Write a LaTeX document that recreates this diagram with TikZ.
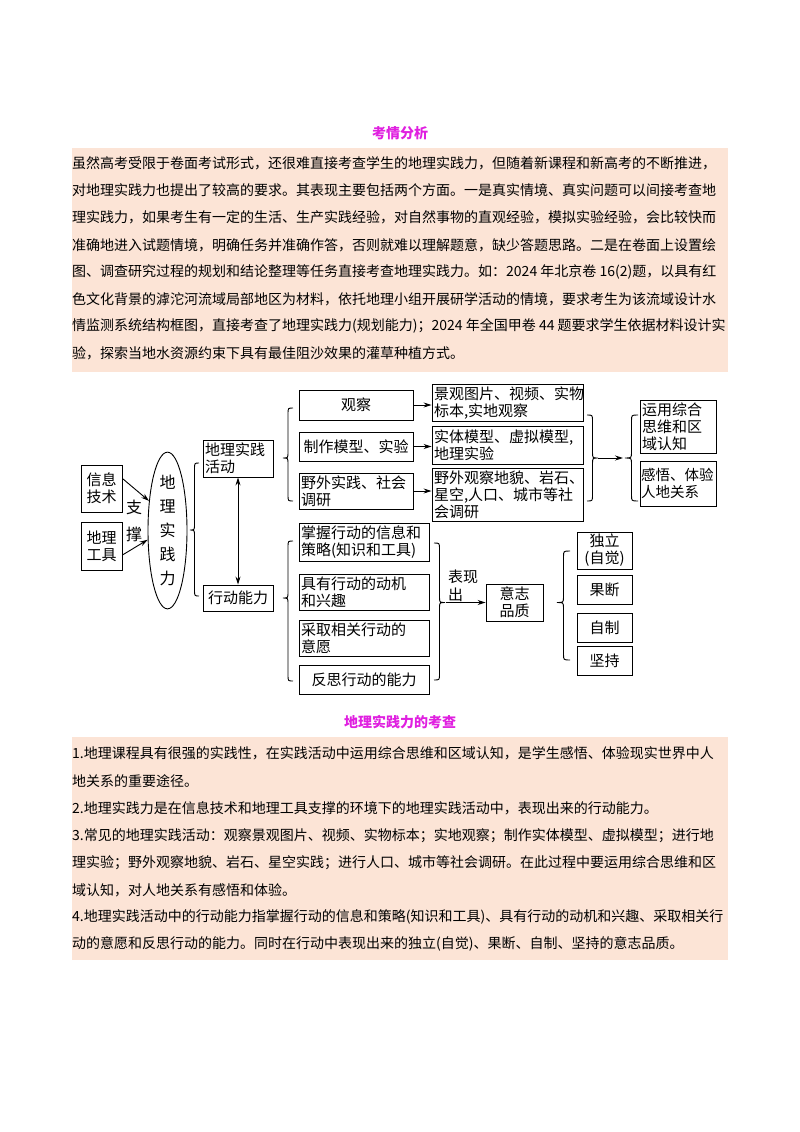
\documentclass[tikz,border=0pt]{standalone}
\usepackage{fontspec}
\setmainfont{Noto Sans CJK SC}
\usetikzlibrary{shapes.geometric,arrows.meta}
\definecolor{pk}{HTML}{FCE4D6}
\definecolor{mg}{HTML}{E020E0}
\newcommand\Brc[5]{\draw[line width=0.9pt] ({#1+#2},#3) .. controls ({#1+#2/2},#3) .. ({#1+#2/2},#3+6) -- ({#1+#2/2},#4-6) .. controls ({#1+#2/2},#4) .. (#1,#4) .. controls ({#1+#2/2},#4) .. ({#1+#2/2},#4+6) -- ({#1+#2/2},#5-6) .. controls ({#1+#2/2},#5) .. ({#1+#2},#5);}
\tikzset{
  bx/.style={draw, line width=0.9pt, inner sep=2pt, font=\fontsize{15}{17}\selectfont, align=left},
  bxc/.style={bx, align=center},
  arr/.style={line width=0.9pt, -{Stealth[length=8pt,width=5pt]}},
  para/.style={anchor=west, inner sep=0pt, font=\fontsize{14}{14}\selectfont},
  ttl/.style={text=mg, font=\fontsize{14}{14}\selectfont\bfseries}
}
\begin{document}
\begin{tikzpicture}[x=1pt,y=-1pt]
\useasboundingbox (0,0) rectangle (800,1132);
\fill[white] (0,0) rectangle (800,1132);
% section 1
\node[ttl] (t1) at (400,133) {考情分析};
\fill[pk] (72,148) rectangle (728,372);
\node[para] (p1) at (72,163) {虽然高考受限于卷面考试形式，还很难直接考查学生的地理实践力，但随着新课程和新高考的不断推进，};
\node[para] (p2) at (72,190) {对地理实践力也提出了较高的要求。其表现主要包括两个方面。一是真实情境、真实问题可以间接考查地};
\node[para] (p3) at (72,217) {理实践力，如果考生有一定的生活、生产实践经验，对自然事物的直观经验，模拟实验经验，会比较快而};
\node[para] (p4) at (72,245) {准确地进入试题情境，明确任务并准确作答，否则就难以理解题意，缺少答题思路。二是在卷面上设置绘};
\node[para] (p5) at (72,272) {图、调查研究过程的规划和结论整理等任务直接考查地理实践力。如：2024 年北京卷 16(2)题，以具有红};
\node[para] (p6) at (72,299) {色文化背景的滹沱河流域局部地区为材料，依托地理小组开展研学活动的情境，要求考生为该流域设计水};
\node[para] (p7) at (72,326) {情监测系统结构框图，直接考查了地理实践力(规划能力)；2024 年全国甲卷 44 题要求学生依据材料设计实};
\node[para] (p8) at (72,353) {验，探索当地水资源约束下具有最佳阻沙效果的灌草种植方式。};
% diagram
\node[bxc, minimum width=41, minimum height=47, text width=37] (xx) at (101.5,488.5) {信息\\技术};
\node[bxc, minimum width=41, minimum height=48, text width=37] (dg) at (101.5,546) {地理\\工具};
\node[draw, line width=0.9pt, ellipse, minimum width=39, minimum height=131, inner sep=0pt, align=center, font=\fontsize{16}{24}\selectfont] (el) at (167.5,530.5) {地\\理\\实\\践\\力};
\node[align=center, font=\fontsize{16}{27}\selectfont, inner sep=0pt] (zc) at (134,521) {支\\撑};
\draw[arr] ([yshift=10pt]xx.east) -- (el.122);
\draw[arr] ([yshift=-9pt]dg.east) -- (el.205);
\Brc{190}{9}{463}{530}{596}
\node[bx, minimum width=70, minimum height=37, text width=66] (hd) at (238,458.5) {地理实践\\活动};
\node[bxc, minimum width=70, minimum height=26, text width=66] (xn) at (238,598) {行动能力};
\draw[line width=0.9pt, {Stealth[length=8pt,width=5pt]}-{Stealth[length=8pt,width=5pt]}] (hd.south) -- (xn.north);
\Brc{283}{10}{408}{458}{501}
\node[bxc, minimum width=114, minimum height=30, text width=110] (gc) at (356,405) {观察};
\node[bxc, minimum width=114, minimum height=29, text width=110] (zz) at (356,446.5) {制作模型、实验};
\node[bx, minimum width=114, minimum height=36, text width=110] (yw) at (356,491) {野外实践、社会\\调研};
\node[bx, minimum width=151, minimum height=36, text width=147] (jg) at (507.5,403) {景观图片、视频、实物\\标本,实地观察};
\node[bx, minimum width=151, minimum height=38, text width=147] (st) at (507.5,445) {实体模型、虚拟模型,\\地理实验};
\node[bx, minimum width=151, minimum height=53, text width=147] (yg) at (507.5,494.5) {野外观察地貌、岩石、\\星空,人口、城市等社\\会调研};
\draw[arr] (gc.east) -- (gc.east -| jg.west);
\draw[arr] (zz.east) -- (zz.east -| st.west);
\draw[arr] (yw.east) -- (yw.east -| yg.west);
\Brc{598}{-11}{415}{458}{501}
\coordinate (r1) at (598,458);
\coordinate (r2) at (623,458);
\draw[arr] (r1) -- (r2);
\Brc{625}{13}{415}{458}{501}
\node[bx, minimum width=76, minimum height=53, text width=72] (yy) at (678,426.5) {运用综合\\思维和区\\域认知};
\node[bx, minimum width=76, minimum height=45, text width=74, inner sep=1pt, font=\fontsize{14.5}{17}\selectfont] (gw) at (678,483.5) {感悟、体验\\人地关系};
\Brc{283}{10}{541}{598}{681}
\node[bx, minimum width=130, minimum height=38, text width=126] (zw) at (364,542) {掌握行动的信息和\\策略(知识和工具)};
\node[bx, minimum width=130, minimum height=36, text width=126] (jy) at (364,592) {具有行动的动机\\和兴趣};
\node[bx, minimum width=130, minimum height=36, text width=126] (cq) at (364,638) {采取相关行动的\\意愿};
\node[bxc, minimum width=130, minimum height=29, text width=126] (fs) at (364,679.5) {反思行动的能力};
\Brc{445}{-11}{543}{602.5}{680}
\node[align=left, font=\fontsize{15}{18}\selectfont, inner sep=0pt, anchor=west] (bx3) at (448,586) {表现\\出};
\node[bxc, minimum width=57, minimum height=37, text width=53] (yz) at (514.5,602.5) {意志\\品质};
\coordinate (r3) at (446,602.5);
\draw[arr] (r3) -- (yz.west);
\Brc{557}{13}{551}{602.5}{660}
\node[bxc, minimum width=55, minimum height=37, text width=51] (dl) at (604.5,550.5) {独立\\(自觉)};
\node[bxc, minimum width=55, minimum height=29, text width=51] (gd) at (604.5,589.5) {果断};
\node[bxc, minimum width=55, minimum height=29, text width=51] (zzh) at (604.5,627.5) {自制};
\node[bxc, minimum width=55, minimum height=29, text width=51] (jc) at (604.5,660.5) {坚持};
% section 2
\node[ttl] (t2) at (400,722) {地理实践力的考查};
\fill[pk] (72,737) rectangle (728,960);
\node[para] (q1) at (72,753) {1.地理课程具有很强的实践性，在实践活动中运用综合思维和区域认知，是学生感悟、体验现实世界中人};
\node[para] (q2) at (72,781) {地关系的重要途径。};
\node[para] (q3) at (72,808) {2.地理实践力是在信息技术和地理工具支撑的环境下的地理实践活动中，表现出来的行动能力。};
\node[para] (q4) at (72,836) {3.常见的地理实践活动：观察景观图片、视频、实物标本；实地观察；制作实体模型、虚拟模型；进行地};
\node[para] (q5) at (72,863) {理实验；野外观察地貌、岩石、星空实践；进行人口、城市等社会调研。在此过程中要运用综合思维和区};
\node[para] (q6) at (72,890) {域认知，对人地关系有感悟和体验。};
\node[para] (q7) at (72,917) {4.地理实践活动中的行动能力指掌握行动的信息和策略(知识和工具)、具有行动的动机和兴趣、采取相关行};
\node[para] (q8) at (72,944) {动的意愿和反思行动的能力。同时在行动中表现出来的独立(自觉)、果断、自制、坚持的意志品质。};
\end{tikzpicture}
\end{document}
